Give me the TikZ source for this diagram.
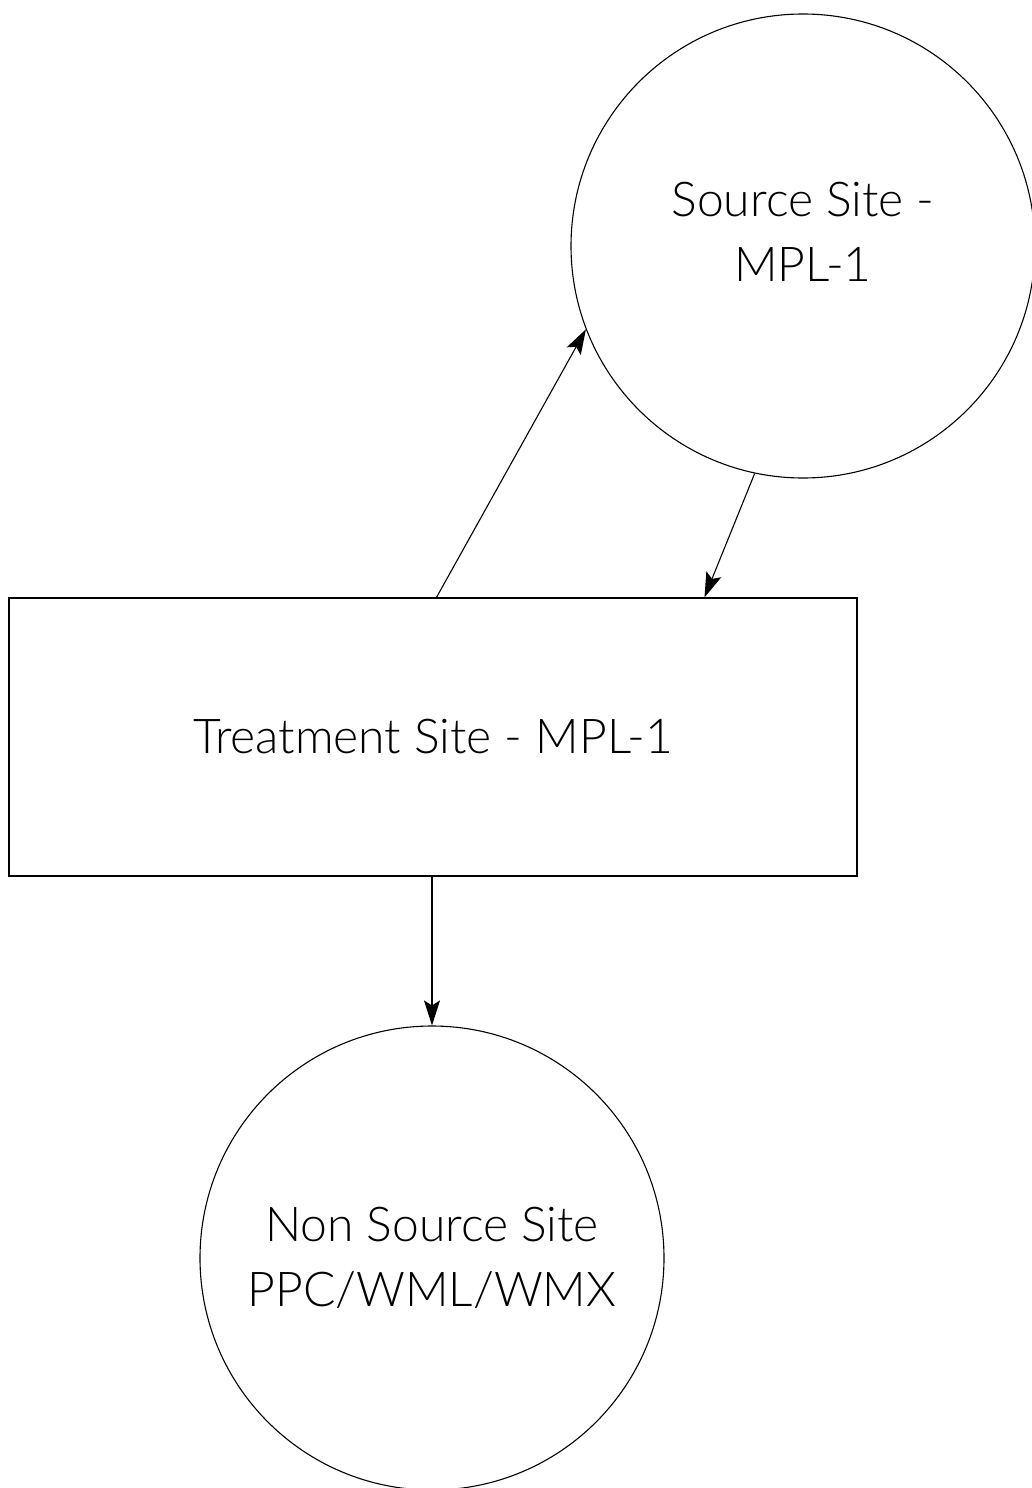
\documentclass[tikz,border=0pt]{standalone}
\usepackage{fontspec}
\setmainfont{Lato Light}
\usetikzlibrary{arrows.meta,calc}
\begin{document}
\begin{tikzpicture}[x=1pt,y=-1pt,
  site/.style={draw,circle,line width=1.1pt,minimum size=464pt,inner sep=0pt,align=center,font=\fontsize{48}{65}\selectfont},
  box/.style={draw,rectangle,line width=1.1pt,minimum width=848pt,minimum height=278pt,inner sep=0pt,font=\fontsize{48}{65}\selectfont},
  conn/.style={line width=1.1pt,-{Stealth[length=25pt,width=16pt,inset=5pt]}}]
\useasboundingbox (0,0) rectangle (1032,1488);
\node[site] (src) at (803,246) {Source Site -\\MPL-1\rule[-28pt]{0pt}{0pt}};
\node[box] (trt) at (433,737) {Treatment Site - MPL-1};
\node[site] (non) at (432,1258) {Non Source Site\\PPC/WML/WMX};
\draw[conn] ($(trt.north west)+(428,0)$) -- (src.201.8);
\draw[conn] (src.258.2) -- ($(trt.north west)+(696,0)$);
\draw[conn] (trt.south -| non.north) -- (non.north);
\end{tikzpicture}
\end{document}
